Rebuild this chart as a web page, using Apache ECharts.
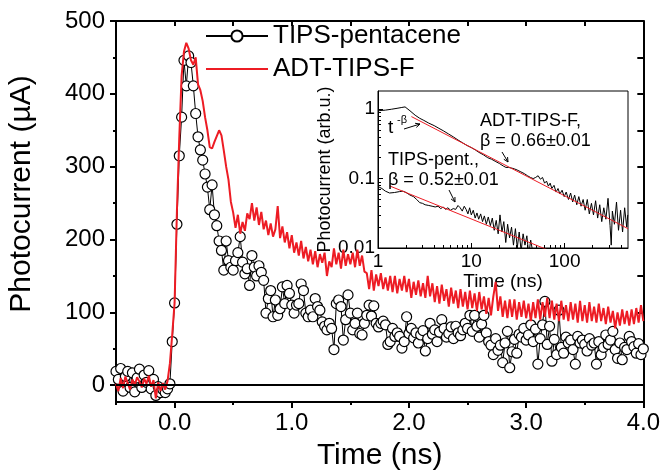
<!DOCTYPE html>
<html><head><meta charset="utf-8">
<script src="https://cdn.jsdelivr.net/npm/echarts@6/dist/echarts.min.js"></script>
<style>html,body{margin:0;padding:0;background:#fff}#c{width:663px;height:476px}</style>
</head><body><div id="c"></div>
<script>
// ---------- main chart data ----------
const time = [
-0.50,-0.48,-0.46,-0.44,-0.42,-0.40,-0.38,-0.36,-0.34,-0.32,
-0.30,-0.28,-0.26,-0.24,-0.22,-0.20,-0.18,-0.16,-0.14,-0.12,
-0.10,-0.08,-0.06,-0.04,-0.02,0.00,0.02,0.04,0.06,0.08,
0.10,0.12,0.14,0.16,0.18,0.20,0.22,0.24,0.26,0.28,
0.30,0.32,0.34,0.36,0.38,0.40,0.42,0.44,0.46,0.48,
0.50,0.52,0.54,0.56,0.58,0.60,0.62,0.64,0.66,0.68,
0.70,0.72,0.74,0.76,0.78,0.80,0.82,0.84,0.86,0.88,
0.90,0.92,0.94,0.96,0.98,1.00,1.02,1.04,1.06,1.08,
1.10,1.12,1.14,1.16,1.18,1.20,1.22,1.24,1.26,1.28,
1.30,1.32,1.34,1.36,1.38,1.40,1.42,1.44,1.46,1.48,
1.50,1.52,1.54,1.56,1.58,1.60,1.62,1.64,1.66,1.68,
1.70,1.72,1.74,1.76,1.78,1.80,1.82,1.84,1.86,1.88,
1.90,1.92,1.94,1.96,1.98,2.00,2.02,2.04,2.06,2.08,
2.10,2.12,2.14,2.16,2.18,2.20,2.22,2.24,2.26,2.28,
2.30,2.32,2.34,2.36,2.38,2.40,2.42,2.44,2.46,2.48,
2.50,2.52,2.54,2.56,2.58,2.60,2.62,2.64,2.66,2.68,
2.70,2.72,2.74,2.76,2.78,2.80,2.82,2.84,2.86,2.88,
2.90,2.92,2.94,2.96,2.98,3.00,3.02,3.04,3.06,3.08,
3.10,3.12,3.14,3.16,3.18,3.20,3.22,3.24,3.26,3.28,
3.30,3.32,3.34,3.36,3.38,3.40,3.42,3.44,3.46,3.48,
3.50,3.52,3.54,3.56,3.58,3.60,3.62,3.64,3.66,3.68,
3.70,3.72,3.74,3.76,3.78,3.80,3.82,3.84,3.86,3.88,
3.90,3.92,3.94,3.96,3.98,4.00];

const tipsValues = [
19,8,23,-8,12,19,-3,17,-9,10,
22,-3,14,4,20,-5,8,-14,-2,-10,
-6,-10,-5,2,60,113,221,315,368,446,
411,452,443,411,373,341,323,309,290,272,
241,275,234,219,198,185,158,198,171,162,
158,171,182,204,169,153,160,137,178,162,
150,164,155,144,99,119,130,94,117,96,
105,135,112,137,126,110,99,110,112,139,
130,99,94,103,94,119,108,103,87,81,
76,85,78,49,112,117,108,62,90,124,
99,76,85,99,71,69,85,96,110,95,
109,85,80,85,88,83,56,60,78,67,
72,67,51,60,94,71,78,65,72,58,
69,75,47,64,85,70,76,60,73,90,
78,66,71,80,64,81,72,68,76,85,
78,96,74,96,81,66,84,96,72,60,
55,42,64,48,55,31,58,74,24,46,
63,44,70,66,78,62,69,83,60,77,
29,64,83,115,56,81,33,63,42,103,
52,44,66,58,62,49,29,67,58,62,
56,47,64,55,58,29,60,42,52,69,
56,62,74,49,37,58,35,52,49,67,
60,53,44,57,42,50];

const adtValues = [
2,-8,10,-4,12,3,-6,8,0,11,
5,-3,9,2,13,-2,7,-18,4,-8,
3,-6,6,30,70,113,240,340,425,458,
470,462,446,440,450,413,405,390,368,350,
327,325,334,342,350,343,322,300,282,252,
237,216,234,208,224,212,236,228,250,226,
244,220,238,214,226,206,222,204,214,246,
202,218,196,210,188,206,182,196,178,198,
174,190,170,186,166,184,162,180,168,182,
150,170,162,188,166,182,160,186,164,180,
166,182,162,186,164,178,156,154,132,158,
130,152,136,154,132,148,130,150,128,150,
126,146,130,150,128,146,120,142,124,144,
122,140,120,150,122,140,114,136,112,138,
116,132,108,134,112,130,106,132,108,128,
104,130,106,126,102,128,104,122,98,120,
96,122,142,102,122,94,116,92,118,94,
118,90,114,94,116,92,112,88,114,92,
118,90,114,94,120,92,116,90,112,88,
116,90,110,88,114,90,112,86,116,88,
110,86,114,88,108,86,112,88,106,84,
108,86,102,78,100,82,104,84,102,82,
104,84,106,86,110,88];

const seriesNames = ['TIPS-pentacene', 'ADT-TIPS-F'];
const xTickValues = [0, 1, 2, 3, 4];
const xMinorTickValues = [-0.5, 0.5, 1.5, 2.5, 3.5];
const xTopTickValues = [-0.5, 0, 0.5, 1, 1.5, 2, 2.5, 3, 3.5, 4];
const yTickValues = [0, 100, 200, 300, 400, 500];
const yMinorTickValues = [50, 150, 250, 350, 450];
const yRightTickValues = [0, 50, 100, 150, 200, 250, 300, 350, 400, 450, 500];

// ---------- inset (log-log) data ----------
const insetAdtTime = [1.0,1.2,1.4,1.6,1.8,1.95,2.2,2.5,2.8,3.1,3.5,4.0,4.5,5.0,5.7,6.4,7.2,8.0,9.0,10,
11,12,13.5,15,16.5,18,20,22,23.5,25,27,29,31,34,37,40,43,46,49,52,
55,58,61,64,67,70,73,77,81,85,89,94,99,104,110,116,122,128,135,142,
150,158,166,175,184,194,204,215,226,238,250,263,277,292,307,316,325,342,360,378,
398,418,440,463,475];
const insetAdtValue = [0.95,0.97,1.0,1.03,1.06,1.08,0.95,0.82,0.74,0.69,0.63,0.58,0.53,0.49,0.44,0.40,0.36,0.33,0.30,0.28,
0.26,0.24,0.22,0.20,0.19,0.178,0.165,0.152,0.145,0.145,0.142,0.138,0.133,0.125,0.118,0.110,0.104,0.100,0.104,0.110,
0.098,0.104,0.086,0.092,0.078,0.086,0.072,0.080,0.064,0.072,0.060,0.068,0.055,0.064,0.050,0.062,0.046,0.058,0.042,0.055,
0.040,0.050,0.035,0.050,0.031,0.044,0.030,0.048,0.027,0.042,0.024,0.038,0.026,0.052,0.021,0.011,0.034,0.022,0.046,0.018,
0.035,0.017,0.038,0.020,0.030];
const insetTipsTime = [1.0,1.1,1.2,1.33,1.5,1.7,1.85,2.0,2.2,2.4,2.6,2.8,3.0,3.2,3.5,3.8,4.1,4.4,4.7,5.0,
5.3,5.6,6.0,6.4,6.8,7.2,7.6,8.0,8.4,8.8,9.2,9.6,10.0,10.5,11.0,11.5,12.0,12.6,13.2,13.8,
14.5,15.2,16.0,16.8,17.6,18.5,19.4,20.3,21.3,22.3,23.4,24.5,25.7,27.0,28.3,29.7,31.1,32.6,34.2,35.9,
37.6,39.4,41.3,43.3,45.4];
const insetTipsValue = [0.077,0.072,0.066,0.062,0.063,0.065,0.066,0.063,0.058,0.055,0.050,0.045,0.044,0.042,0.041,0.040,0.039,0.040,0.037,0.039,
0.036,0.038,0.035,0.037,0.036,0.041,0.038,0.034,0.040,0.036,0.031,0.038,0.030,0.035,0.027,0.032,0.026,0.031,0.024,0.029,
0.022,0.028,0.021,0.027,0.018,0.025,0.016,0.030,0.017,0.024,0.012,0.022,0.014,0.020,0.011,0.019,0.010,0.017,0.009,0.016,
0.011,0.015,0.008,0.013,0.009];
const fitAdtTime = [2.28, 478];
const fitAdtValue = [0.783, 0.019];
const fitTipsTime = [1.33, 70];
const fitTipsValue = [0.0785, 0.0091];
const insetXTickValues = [1, 10, 100];
const insetXMinorValues = [2,3,4,5,6,7,8,9,20,30,40,50,60,70,80,90,200,300,400];
const insetYTickValues = [0.01, 0.1, 1];
const insetYMinorValues = [0.02,0.03,0.04,0.05,0.06,0.07,0.08,0.09,0.2,0.3,0.4,0.5,0.6,0.7,0.8,0.9];

// ---------- helpers ----------
const FONT = 'Liberation Sans, Arial, sans-serif';
const BLACK = '#000';
const RED = '#ed1c24';
const pairs = (xs, ys) => xs.map((x, i) => [x, ys[i]]);

function txt(text, x, y, size, align, rot) {
  return {
    type: 'text', x: x, y: y, rotation: rot || 0, z: 50,
    style: { text: text, fontSize: size, fontFamily: FONT, fill: BLACK,
      align: align || 'left', verticalAlign: 'middle',
      textAlign: align || 'left', textVerticalAlign: 'middle' }
  };
}
function arrow(x1, y1, x2, y2) {
  const a = Math.atan2(y2 - y1, x2 - x1), L = 5, w = 0.45;
  return [
    { type: 'line', z: 50, shape: { x1: x1, y1: y1, x2: x2, y2: y2 }, style: { stroke: BLACK, lineWidth: 1 } },
    { type: 'polyline', z: 50, shape: { points: [
        [x2 - L * Math.cos(a - w), y2 - L * Math.sin(a - w)], [x2, y2],
        [x2 - L * Math.cos(a + w), y2 - L * Math.sin(a + w)]] },
      style: { stroke: BLACK, lineWidth: 1, fill: null } }
  ];
}

const chart = echarts.init(document.getElementById('c'), null, { renderer: 'canvas' });

const mainX = { gridIndex: 0, type: 'value', min: -0.5, max: 4, splitLine: { show: false } };
const mainY = { gridIndex: 0, type: 'value', min: -23, max: 500, splitLine: { show: false } };
const insX = { gridIndex: 1, type: 'log', logBase: 10, min: 1, max: 478, splitLine: { show: false } };
const insY = { gridIndex: 1, type: 'log', logBase: 10, min: 0.01, max: 1.83, splitLine: { show: false } };
const line2 = { onZero: false, lineStyle: { color: BLACK, width: 2 } };
const line1 = { onZero: false, lineStyle: { color: BLACK, width: 1 } };

const option = {
  animation: false,
  backgroundColor: '#fff',
  grid: [
    { left: 116, right: 18, top: 21, bottom: 70, show: false },
    { left: 378, top: 91, width: 250, height: 157, show: true, borderColor: BLACK, borderWidth: 1, backgroundColor: 'transparent' }
  ],
  legend: {
    data: [
      { name: seriesNames[0] },
      { name: seriesNames[1], icon: 'path://M0,0H62V2H0Z', itemStyle: { color: RED } }
    ],
    orient: 'vertical', left: 205, top: 23, padding: 0,
    itemWidth: 62, itemHeight: 14, itemGap: 7,
    textStyle: { fontSize: 26, color: BLACK, fontFamily: FONT }
  },
  xAxis: [
    Object.assign({}, mainX, { position: 'bottom', axisLine: line2,
      axisTick: { customValues: xTickValues, length: 6, lineStyle: { color: BLACK, width: 2 } },
      axisLabel: { customValues: xTickValues, formatter: v => Number(v).toFixed(1), fontSize: 24, color: BLACK, fontFamily: FONT, margin: 9 },
      name: 'Time (ns)', nameLocation: 'middle', nameGap: 39,
      nameTextStyle: { fontSize: 30, color: BLACK, fontFamily: FONT } }),
    Object.assign({}, mainX, { position: 'bottom', axisLine: { show: false, onZero: false },
      axisTick: { customValues: xMinorTickValues, length: 3, lineStyle: { color: BLACK, width: 2 } },
      axisLabel: { show: false } }),
    Object.assign({}, mainX, { position: 'top', axisLine: line2,
      axisTick: { customValues: xTopTickValues, inside: true, length: 5, lineStyle: { color: BLACK, width: 2 } },
      axisLabel: { show: false } }),
    Object.assign({}, insX, { position: 'bottom', axisLine: line1,
      axisTick: { customValues: insetXTickValues, inside: true, length: 5, lineStyle: { color: BLACK, width: 1 } },
      axisLabel: { customValues: insetXTickValues, formatter: v => String(Math.round(v)), fontSize: 19, color: BLACK, fontFamily: FONT, margin: 4 },
      name: 'Time (ns)', nameLocation: 'middle', nameGap: 22,
      nameTextStyle: { fontSize: 19, color: BLACK, fontFamily: FONT } }),
    Object.assign({}, insX, { position: 'bottom', axisLine: { show: false, onZero: false },
      axisTick: { customValues: insetXMinorValues, inside: true, length: 3, lineStyle: { color: BLACK, width: 1 } },
      axisLabel: { show: false } })
  ],
  yAxis: [
    Object.assign({}, mainY, { position: 'left', axisLine: line2,
      axisTick: { customValues: yTickValues, length: 6, lineStyle: { color: BLACK, width: 2 } },
      axisLabel: { customValues: yTickValues, fontSize: 24, color: BLACK, fontFamily: FONT, margin: 11 } }),
    Object.assign({}, mainY, { position: 'left', axisLine: { show: false, onZero: false },
      axisTick: { customValues: yMinorTickValues, length: 3, lineStyle: { color: BLACK, width: 2 } },
      axisLabel: { show: false } }),
    Object.assign({}, mainY, { position: 'right', axisLine: line2,
      axisTick: { customValues: yRightTickValues, inside: true, length: 6, lineStyle: { color: BLACK, width: 2 } },
      axisLabel: { show: false } }),
    Object.assign({}, insY, { position: 'left', axisLine: line1,
      axisTick: { customValues: insetYTickValues, inside: true, length: 5, lineStyle: { color: BLACK, width: 1 } },
      axisLabel: { customValues: insetYTickValues, formatter: v => String(+Number(v).toPrecision(2)), fontSize: 19, color: BLACK, fontFamily: FONT, margin: 3 },
      name: 'Photocurrent (arb.u.)', nameLocation: 'middle', nameGap: 40, nameRotate: 90,
      nameTextStyle: { fontSize: 18, color: BLACK, fontFamily: FONT } }),
    Object.assign({}, insY, { position: 'left', axisLine: { show: false, onZero: false },
      axisTick: { customValues: insetYMinorValues, inside: true, length: 3, lineStyle: { color: BLACK, width: 1 } },
      axisLabel: { show: false } })
  ],
  series: [
    { name: seriesNames[0], type: 'line', xAxisIndex: 0, yAxisIndex: 0, z: 3,
      data: pairs(time, tipsValues), symbol: 'circle', symbolSize: 10, showAllSymbol: true,
      itemStyle: { color: '#fff', borderColor: BLACK, borderWidth: 1.2 },
      lineStyle: { color: BLACK, width: 1 },
      markLine: { silent: true, symbol: 'none', label: { show: false },
        lineStyle: { color: BLACK, width: 2, type: 'solid' }, data: [{ yAxis: 0 }] } },
    { name: seriesNames[1], type: 'line', xAxisIndex: 0, yAxisIndex: 0, z: 4,
      data: pairs(time, adtValues), symbol: 'none', itemStyle: { color: RED },
      lineStyle: { color: RED, width: 2 } },
    { name: 'inset ADT', type: 'line', xAxisIndex: 3, yAxisIndex: 3, z: 5,
      data: pairs(insetAdtTime, insetAdtValue), symbol: 'none', lineStyle: { color: BLACK, width: 1 } },
    { name: 'inset TIPS', type: 'line', xAxisIndex: 3, yAxisIndex: 3, z: 5,
      data: pairs(insetTipsTime, insetTipsValue), symbol: 'none', lineStyle: { color: BLACK, width: 1 } },
    { name: 'fit ADT', type: 'line', xAxisIndex: 3, yAxisIndex: 3, z: 6,
      data: pairs(fitAdtTime, fitAdtValue), symbol: 'none', lineStyle: { color: RED, width: 1 } },
    { name: 'fit TIPS', type: 'line', xAxisIndex: 3, yAxisIndex: 3, z: 6,
      data: pairs(fitTipsTime, fitTipsValue), symbol: 'none', lineStyle: { color: RED, width: 1 } }
  ],
  graphic: [
    txt('Photocurrent (\u00b5A)', 22, 194, 30, 'center', Math.PI / 2),
    txt('t', 388, 128, 19, 'left'),
    txt('-\u03b2', 397, 120, 11, 'left'),
    txt('ADT-TIPS-F,', 480, 121, 18, 'left'),
    txt('\u03b2 = 0.66\u00b10.01', 480, 141, 18, 'left'),
    txt('TIPS-pent.,', 388, 160, 18, 'left'),
    txt('\u03b2 = 0.52\u00b10.01', 388, 180, 18, 'left'),
    ...arrow(404, 129, 420, 124),
    ...arrow(502, 152, 508, 162),
    ...arrow(449, 190, 455, 202)
  ]
};
chart.setOption(option);
</script></body></html>
